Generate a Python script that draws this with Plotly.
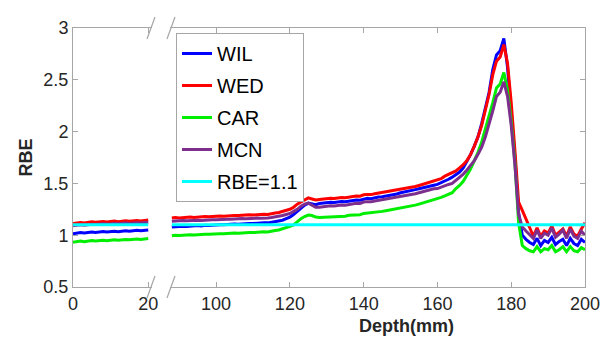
import plotly.graph_objects as go

# ---------------- data ----------------
depth1 = list(range(0, 21))
depth2 = list(range(88, 201))
rbe_const = 1.1

wil1 = [1.015,1.022,1.025,1.021,1.028,1.030,1.026,1.032,1.035,1.031,1.036,1.038,1.034,1.040,1.043,1.039,1.044,1.047,1.042,1.048,1.050]
wed1 = [1.112,1.120,1.123,1.118,1.126,1.129,1.124,1.130,1.132,1.127,1.133,1.136,1.131,1.137,1.139,1.134,1.140,1.142,1.138,1.144,1.146]
car1 = [0.932,0.940,0.943,0.938,0.946,0.948,0.945,0.950,0.952,0.947,0.954,0.956,0.951,0.957,0.959,0.955,0.961,0.963,0.958,0.965,0.968]
mcn1 = [1.092,1.098,1.101,1.097,1.104,1.106,1.103,1.108,1.110,1.106,1.111,1.113,1.110,1.115,1.117,1.113,1.118,1.120,1.117,1.122,1.124]

wil2 = [1.080,1.084,1.081,1.087,1.085,1.090,1.088,1.093,1.090,1.096,
        1.094,1.099,1.097,1.102,1.100,1.105,1.103,1.108,1.106,1.111,
        1.109,1.114,1.112,1.117,1.115,1.121,1.119,1.125,1.130,1.135,
        1.145,1.160,1.175,1.200,1.230,1.260,1.290,1.310,1.300,1.295,
        1.305,1.310,1.312,1.318,1.315,1.322,1.326,1.323,1.331,1.334,
        1.340,1.338,1.350,1.356,1.353,1.362,1.368,1.372,1.378,1.385,
        1.390,1.398,1.410,1.416,1.424,1.430,1.440,1.448,1.458,1.466,
        1.475,1.482,1.490,1.505,1.520,1.540,1.560,1.585,1.610,1.650,
        1.710,1.780,1.860,1.950,2.080,2.220,2.380,2.600,2.740,2.780,
        2.900,2.620,2.220,1.750,1.220,1.000,0.960,0.930,0.910,0.970,
        0.900,0.950,0.930,0.980,0.910,0.940,0.960,0.900,0.970,0.920,
        0.900,0.960,0.930]
wed2 = [1.165,1.170,1.167,1.172,1.170,1.175,1.172,1.177,1.175,1.180,
        1.178,1.182,1.180,1.185,1.183,1.188,1.186,1.191,1.189,1.194,
        1.192,1.197,1.195,1.200,1.198,1.203,1.201,1.210,1.215,1.220,
        1.230,1.240,1.250,1.270,1.300,1.320,1.340,1.360,1.350,1.340,
        1.345,1.350,1.352,1.356,1.354,1.360,1.364,1.362,1.368,1.372,
        1.378,1.376,1.390,1.394,1.392,1.400,1.406,1.410,1.416,1.422,
        1.428,1.434,1.440,1.448,1.455,1.462,1.470,1.480,1.490,1.500,
        1.510,1.520,1.530,1.545,1.570,1.585,1.600,1.620,1.650,1.680,
        1.720,1.780,1.860,1.950,2.060,2.200,2.360,2.550,2.680,2.720,
        2.840,2.660,2.280,1.820,1.320,1.240,1.160,1.080,0.990,1.070,
        0.990,1.040,1.020,1.090,1.000,1.030,1.060,0.990,1.080,1.010,
        0.990,1.060,1.120]
car2 = [0.995,1.000,0.997,1.002,1.000,1.005,1.002,1.007,1.005,1.010,
        1.008,1.012,1.010,1.015,1.013,1.018,1.016,1.021,1.019,1.024,
        1.022,1.027,1.025,1.030,1.028,1.033,1.031,1.040,1.045,1.050,
        1.060,1.070,1.085,1.100,1.130,1.160,1.180,1.195,1.190,1.175,
        1.170,1.172,1.175,1.178,1.176,1.182,1.186,1.184,1.192,1.196,
        1.200,1.198,1.210,1.214,1.212,1.220,1.226,1.230,1.236,1.242,
        1.248,1.254,1.260,1.268,1.275,1.282,1.290,1.300,1.310,1.320,
        1.330,1.340,1.350,1.365,1.380,1.395,1.410,1.450,1.480,1.520,
        1.580,1.640,1.720,1.800,1.900,2.020,2.140,2.280,2.420,2.460,
        2.570,2.400,2.100,1.700,1.120,0.900,0.870,0.850,0.840,0.890,
        0.840,0.870,0.860,0.900,0.840,0.860,0.890,0.840,0.890,0.850,
        0.840,0.880,0.860]
mcn2 = [1.135,1.139,1.136,1.141,1.139,1.143,1.140,1.145,1.143,1.147,
        1.145,1.150,1.148,1.152,1.150,1.155,1.153,1.157,1.155,1.160,
        1.158,1.162,1.160,1.165,1.163,1.168,1.166,1.170,1.175,1.180,
        1.190,1.200,1.210,1.230,1.250,1.280,1.300,1.310,1.290,1.270,
        1.270,1.275,1.280,1.284,1.282,1.288,1.292,1.290,1.298,1.302,
        1.308,1.306,1.320,1.324,1.322,1.330,1.336,1.340,1.346,1.352,
        1.358,1.364,1.370,1.378,1.385,1.392,1.400,1.410,1.420,1.430,
        1.440,1.448,1.450,1.465,1.480,1.490,1.500,1.530,1.560,1.590,
        1.630,1.670,1.720,1.780,1.850,1.950,2.070,2.200,2.340,2.380,
        2.480,2.340,2.060,1.680,1.200,1.080,1.040,1.000,0.970,1.050,
        0.970,1.020,1.000,1.070,0.980,1.010,1.050,0.970,1.060,0.990,
        0.970,1.040,1.000]

x1_ticks = [0, 20]
x2_ticks = [100, 120, 140, 160, 180, 200]
y_ticks = [0.5, 1, 1.5, 2, 2.5, 3]
y_ticktext = ["0.5", "1", "1.5", "2", "2.5", "3"]

series = [
    ("WIL", wil1, wil2, "#0000ff"),
    ("WED", wed1, wed2, "#ff0000"),
    ("CAR", car1, car2, "#00ee00"),
    ("MCN", mcn1, mcn2, "#7e2f8e"),
]

# ---------------- figure ----------------
FONT = "Liberation Sans, Arial, sans-serif"
AX = "#a6a6a6"
TXT = "#262626"
LW = 3

fig = go.Figure()
for name, s1, s2, col in series:
    fig.add_trace(go.Scatter(x=depth1, y=s1, mode="lines", name=name, legendgroup=name,
                             line=dict(color=col, width=LW), xaxis="x", yaxis="y"))
    fig.add_trace(go.Scatter(x=depth2, y=s2, mode="lines", name=name, legendgroup=name,
                             showlegend=False, line=dict(color=col, width=LW),
                             xaxis="x2", yaxis="y2"))

cy = "#00ffff"
fig.add_trace(go.Scatter(x=[depth1[0], depth1[-1]], y=[rbe_const, rbe_const], mode="lines",
                         name="RBE=1.1", legendgroup="RBE", line=dict(color=cy, width=LW),
                         xaxis="x", yaxis="y"))
fig.add_trace(go.Scatter(x=[depth2[0], depth2[-1]], y=[rbe_const, rbe_const], mode="lines",
                         name="RBE=1.1", legendgroup="RBE", showlegend=False,
                         line=dict(color=cy, width=LW), xaxis="x2", yaxis="y2"))

L, R, T, B = 73, 17, 28, 56
W, H = 602, 343
pw, ph = W - L - R, H - T - B
d1_end = (152 - L) / pw
d2_start = (170 - L) / pw

axis_common = dict(showline=True, linecolor=AX, linewidth=1, ticks="inside", ticklen=5,
                   tickcolor=AX, showgrid=False, zeroline=False, automargin=False,
                   tickfont=dict(family=FONT, size=18, color=TXT))

fig.update_layout(
    width=W, height=H, autosize=False,
    margin=dict(l=L, r=R, t=T, b=B, autoexpand=False),
    paper_bgcolor="white", plot_bgcolor="white",
    xaxis=dict(domain=[0, d1_end], range=[0, 21], tickvals=x1_ticks, mirror="ticks",
               anchor="y", **axis_common),
    xaxis2=dict(domain=[d2_start, 1], range=[87.5, 200], tickvals=x2_ticks, mirror="ticks",
                anchor="y2", **axis_common),
    yaxis=dict(domain=[0, 1], range=[0.5, 3], tickvals=y_ticks, ticktext=y_ticktext,
               anchor="x", **axis_common),
    yaxis2=dict(domain=[0, 1], range=[0.5, 3], tickvals=y_ticks, matches="y", anchor="x2",
                side="right", showticklabels=False, **axis_common),
    legend=dict(x=(176 - L) / pw, y=(H - B - 33) / ph, xanchor="left", yanchor="top",
                bgcolor="white", bordercolor=AX, borderwidth=1,
                font=dict(family=FONT, size=20, color="black"), tracegroupgap=3),
    showlegend=True,
)

# axis titles
fig.add_annotation(text="<b>Depth(mm)</b>", xref="paper", yref="paper",
                   x=(406 - L) / pw, y=(H - B - 326) / ph, showarrow=False,
                   xanchor="center", yanchor="middle",
                   font=dict(family=FONT, size=18, color=TXT))
fig.add_annotation(text="<b>RBE</b>", xref="paper", yref="paper",
                   x=(25 - L) / pw, y=0.5, showarrow=False, textangle=-90,
                   xanchor="center", yanchor="middle",
                   font=dict(family=FONT, size=18, color=TXT))

# axis-break marks
for cx in (151, 171):
    for ya in (0, 1):
        fig.add_shape(type="line", xref="paper", yref="paper",
                      xsizemode="pixel", ysizemode="pixel",
                      xanchor=(cx - L) / pw, yanchor=ya,
                      x0=-4, x1=4, y0=-11, y1=11,
                      line=dict(color=AX, width=1.2))

fig.write_html("out.html",
               config={"displayModeBar": False, "responsive": False},
               post_script="document.body.style.margin='0';")
